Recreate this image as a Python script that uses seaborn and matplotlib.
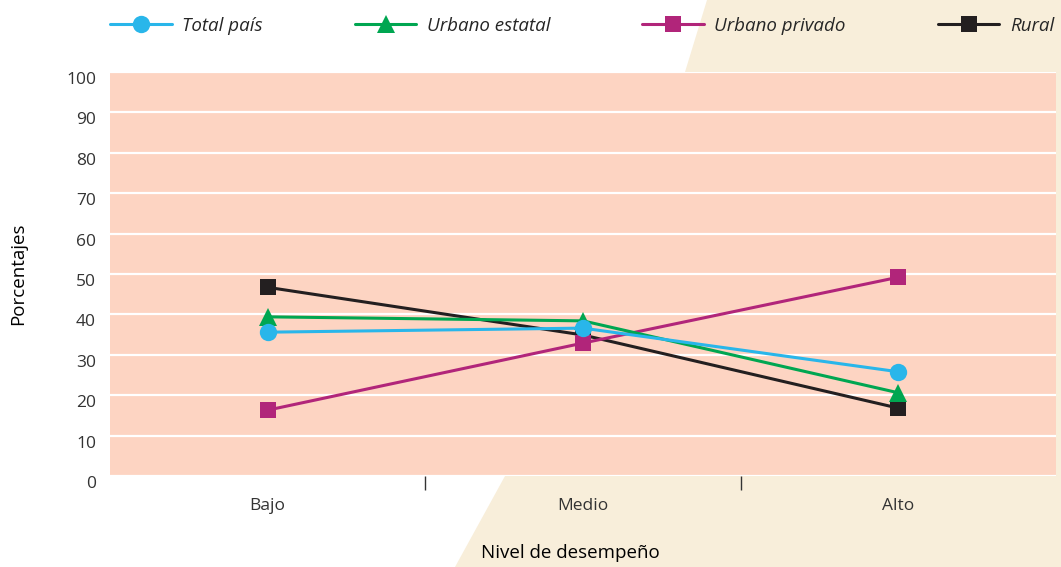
import pandas as pd
import numpy as np
import matplotlib.pyplot as plt
import seaborn as sns
from matplotlib.patches import Polygon

# data
niveles = ['Bajo', 'Medio', 'Alto']
total_pais = [35.6, 36.6, 25.8]
urbano_estatal = [39.4, 38.4, 20.6]
urbano_privado = [16.3, 32.9, 49.2]
rural = [46.7, 34.9, 16.8]

series = ['Total país', 'Urbano estatal', 'Urbano privado', 'Rural']
colores = ['#29B6EA', '#00A651', '#B1257A', '#231F20']
marcadores = ['o', '^', 's', 's']
tam_marcador = [12.5, 12.5, 11, 11]
capas = [2.4, 2.3, 2.2, 2.1]   # rural at the bottom

df = pd.DataFrame({
    'nivel': niveles * 4,
    'serie': np.repeat(series, 3),
    'valor': total_pais + urbano_estatal + urbano_privado + rural,
})

sns.set_style('white')
plt.rcParams['font.family'] = ['Open Sans', 'DejaVu Sans']

fig = plt.figure(figsize=(10.61, 5.67), dpi=100)

# beige background shape
W, H = 1061, 567
pts = [(707, 0), (W, 0), (W, H), (455, H), (505, 476), (685, 72)]
fig.patches.append(Polygon([(x / W, 1 - y / H) for x, y in pts],
                           closed=True, transform=fig.transFigure,
                           facecolor='#F8EEDA', edgecolor='none', zorder=-1))

ax = fig.add_axes([110 / W, 1 - 476 / H, 946 / W, 404 / H])
ax.set_facecolor('#FDD4C2')

sns.lineplot(data=df, x='nivel', y='valor', hue='serie', style='serie',
             palette=colores, markers=marcadores, dashes=False, sort=False,
             linewidth=2.2, markeredgewidth=0, ax=ax)

for line, ms, z in zip(ax.lines, tam_marcador, capas):
    line.set_markersize(ms)
    line.set_zorder(z)

handles, labels = ax.get_legend_handles_labels()
ax.get_legend().remove()
for h, ms in zip(handles, tam_marcador):
    h.set_markersize(ms)
    h.set_linewidth(2.2)
    h.set_markeredgewidth(0)
fig.legend(handles, labels, loc='center left', bbox_to_anchor=(93 / W, 1 - 26 / H),
           ncol=4, frameon=False, handlelength=3.3, handletextpad=0.55,
           columnspacing=4.9, prop={'style': 'italic', 'size': 13.5})

ax.set_xlim(-0.5, 2.5)
ax.set_ylim(0, 100)
ax.set_yticks(range(0, 101, 10))
ax.yaxis.grid(True, color='white', linewidth=1.6)
ax.set_axisbelow(True)
for s in ax.spines.values():
    s.set_visible(False)

ax.set_xticks([0.5, 1.5], minor=True)
ax.tick_params(axis='x', which='minor', bottom=True, length=10, width=1,
               color='#333333', direction='out')
ax.tick_params(axis='x', which='major', length=0, pad=16, labelsize=12.5,
               labelcolor='#333333')
ax.tick_params(axis='y', length=0, pad=10, labelsize=12.5, labelcolor='#333333')
for t in ax.get_yticklabels():
    t.set_verticalalignment('top')

ax.set_xlabel('Nivel de desempeño', fontsize=13.5, color='black')
ax.xaxis.set_label_coords(0.487, -0.168)
ax.set_ylabel('Porcentajes', fontsize=13.5, labelpad=28, color='black')

fig.savefig('out.png', dpi=100)
